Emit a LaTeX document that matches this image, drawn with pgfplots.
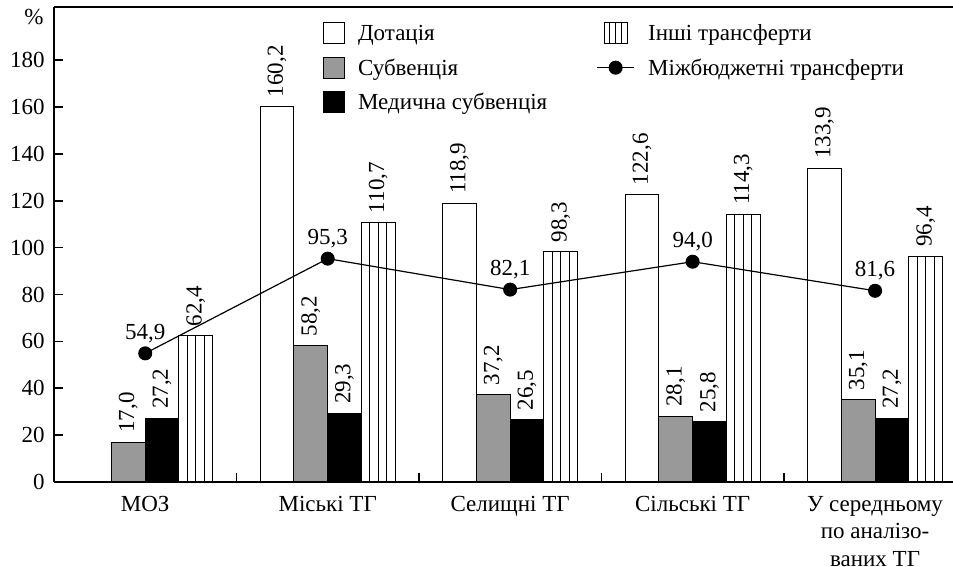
\documentclass[border=0pt]{standalone}
\usepackage{fontspec}
\setmainfont{Liberation Serif}
\usepackage{pgfplots}
\pgfplotsset{compat=1.18}
\definecolor{barGray}{RGB}{153,153,153}
\pgfplotsset{
  barlabel/.style={
    point meta=y,
    nodes near coords={\pgfmathprintnumber[fixed,fixed zerofill,precision=1,use comma]{\pgfplotspointmeta}},
    every node near coord/.append style={xshift=#1, rotate=90, anchor=west, inner xsep=4.5pt, inner ysep=0pt, black},
  },
  sqimg/.style={legend image code/.code={\draw[fill=#1,draw=black,line width=0.5pt] (-5.25pt,-5.25pt) rectangle (5.25pt,5.25pt);}},
}
\begin{document}
\begin{tikzpicture}[font=\fontsize{11.5}{13.75}\selectfont]
\begin{axis}[
  name=ax,
  scale only axis,
  width=449.5pt, height=237.5pt,
  xmin=-0.5, xmax=4.427,
  ymin=0, ymax=202.7,
  axis x line=box, axis y line=left,
  axis line style={-, line width=0.8pt},
  tick align=inside,
  xtick pos=bottom, ytick pos=left,
  major tick length=4.3pt,
  tick style={line width=0.8pt, black},
  ytick={0,20,...,180},
  xtick={0.5,1.5,2.5,3.5},
  xticklabels={,,,},
  extra x ticks={0,1,2,3,4},
  extra x tick labels={МОЗ, Міські ТГ, Селищні ТГ, Сільські ТГ, {\begin{tabular}[t]{@{}c@{}}У середньому\\по аналізо-\\ваних ТГ\end{tabular}}},
  extra x tick style={major tick length=0pt, xticklabel style={text height=10pt, yshift=-1.2pt}},
  yticklabel style={xshift=-1.2pt},
  /pgf/number format/assume math mode=true,
  tick label style={font=\fontsize{11.5}{13.75}\selectfont},
  legend columns=3, transpose legend, legend cell align=left,
  legend style={draw=none, fill=none, at={(0.2987,0.9674)}, anchor=north west,
    inner sep=0pt, outer sep=0pt, row sep=6.1pt,
    font=\fontsize{11.5}{13.75}\selectfont,
    nodes={inner sep=0pt, text height=9pt, text depth=1.5pt},
    /tikz/every odd column/.append style={column sep=6.75pt},
    /tikz/every even column/.append style={column sep=19.25pt}},
]
\addplot[ybar, bar width=0.185, bar shift=-0.2775, fill=white, draw=black, line width=0.5pt, barlabel=-25.32pt, sqimg=white]
  coordinates {(1,160.2) (2,118.9) (3,122.6) (4,133.9)};
\addlegendentry{Дотація}
\addplot[ybar, bar width=0.185, bar shift=-0.0925, fill=barGray, draw=black, line width=0.5pt, barlabel=-8.44pt, sqimg=barGray]
  coordinates {(0,17.0) (1,58.2) (2,37.2) (3,28.1) (4,35.1)};
\addlegendentry{Субвенція}
\addplot[ybar, bar width=0.185, bar shift=0.0925, fill=black, draw=black, line width=0.5pt, barlabel=8.44pt, sqimg=black]
  coordinates {(0,27.2) (1,29.3) (2,26.5) (3,25.8) (4,27.2)};
\addlegendentry{\makebox[100pt][l]{Медична субвенція}}
\addplot[ybar, bar width=0.185, bar shift=0.2775, fill=white, draw=black, line width=0.5pt, barlabel=25.32pt,
  legend image code/.code={\draw[fill=white,draw=black,line width=0.5pt] (-5.75pt,-5.25pt) rectangle (5.75pt,5.25pt);
    \draw[black,line width=0.5pt] (-2.875pt,-5.25pt) -- (-2.875pt,5.25pt) (0pt,-5.25pt) -- (0pt,5.25pt) (2.875pt,-5.25pt) -- (2.875pt,5.25pt);}]
  coordinates {(0,62.4) (1,110.7) (2,98.3) (3,114.3) (4,96.4)};
\addlegendentry{Інші трансферти}
\addplot[ybar, forget plot, bar width=0.04625, bar shift=0.254375, fill=white, draw=black, line width=0.5pt]
  coordinates {(0,62.4) (1,110.7) (2,98.3) (3,114.3) (4,96.4)};
\addplot[ybar, forget plot, bar width=0.04625, bar shift=0.300625, fill=white, draw=black, line width=0.5pt]
  coordinates {(0,62.4) (1,110.7) (2,98.3) (3,114.3) (4,96.4)};
\addplot[black, sharp plot, line width=0.6pt, mark=*, mark size=3.2pt, mark options={solid, fill=black},
  point meta=y,
  nodes near coords={\pgfmathprintnumber[fixed,fixed zerofill,precision=1,use comma]{\pgfplotspointmeta}},
  every node near coord/.append style={anchor=center, yshift=10pt, inner sep=0pt, black},
  legend image code/.code={\draw[black,line width=0.6pt] (-9.25pt,0pt) -- (9.25pt,0pt); \fill[black] (0pt,0pt) circle (3.2pt);}]
  coordinates {(0,54.9) (1,95.3) (2,82.1) (3,94.0) (4,81.6)};
\addlegendentry{Міжбюджетні трансферти}
\end{axis}
\node at ([xshift=-10pt, yshift=-5pt]ax.north west) {\%};
\pgfresetboundingbox
\path[use as bounding box] ([xshift=-27pt,yshift=-42.5pt]ax.south west) rectangle ([yshift=3.5pt]ax.north east);
\end{tikzpicture}
\end{document}
